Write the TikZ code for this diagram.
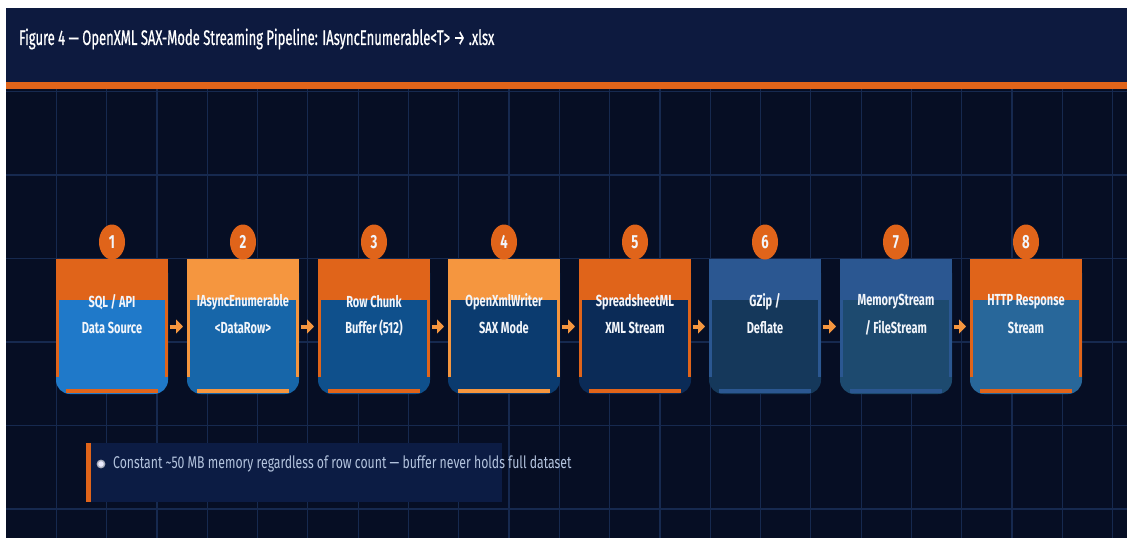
\documentclass[tikz,border=0pt]{standalone}
\usepackage{fontspec}
\setmainfont{Fira Sans}
\newfontfamily\titlef[FakeStretch=0.62,FakeBold=0.6]{Fira Sans}
\newfontfamily\labelf[FakeStretch=0.69]{Fira Sans}
\newfontfamily\notef[FakeStretch=0.72]{Fira Sans}
\usetikzlibrary{arrows.meta,shapes.geometric}

\definecolor{pagebg}{HTML}{060E24}
\definecolor{titlebg}{HTML}{0D1A3F}
\definecolor{gridc}{HTML}{16294F}
\definecolor{orA}{HTML}{E0641A}
\definecolor{orB}{HTML}{F5963F}
\definecolor{bluehead}{HTML}{2B5791}
\definecolor{bodyA}{HTML}{1F79C9}
\definecolor{bodyB}{HTML}{1766A9}
\definecolor{bodyC}{HTML}{0F508C}
\definecolor{bodyD}{HTML}{0B3B6F}
\definecolor{bodyE}{HTML}{0B2B57}
\definecolor{bodyF}{HTML}{15385B}
\definecolor{bodyG}{HTML}{1D4A6F}
\definecolor{bodyH}{HTML}{28679A}
\definecolor{notebg}{HTML}{0C1C44}
\definecolor{notetext}{HTML}{B4C4DE}
\definecolor{labeltext}{HTML}{F2F5FA}

\tikzset{
  gridline/.style={draw=gridc, line width=1.2pt},
  frame/.style={minimum width=112pt, minimum height=135pt, inner sep=0pt, outer sep=0pt},
  badge/.style={ellipse, fill=orA, minimum width=26pt, minimum height=35pt, inner sep=0pt,
                text=labeltext, font=\labelf\bfseries\fontsize{19}{19}\selectfont},
  lbl/.style={text=labeltext, font=\labelf\bfseries\fontsize{16}{16}\selectfont, inner sep=0pt},
  flow/.style={draw=orB, line width=4pt, -{Triangle[length=7pt,width=14pt]}},
}

% one pipeline stage: id, left edge, header colour, body colour, two text lines
\newcommand\stagebox[6]{%
  \node[frame] (s#1) at (#2+56,326.5) {};
  \fill[#4, rounded corners=14pt] (#2,259) rectangle (#2+112,394);
  \fill[#3] (#2,259) rectangle (#2+112,300);
  \fill[#3] (#2,300) rectangle (#2+3,377);
  \fill[#3] (#2+109,300) rectangle (#2+112,377);
  \fill[#3] (#2+10,389) rectangle (#2+102,393);
  \node[badge] (n#1) at (#2+56,242) {#1};
  \node[lbl] (t#1a) at (#2+56,302) {#5};
  \node[lbl] (t#1b) at (#2+56,328) {#6};
}

\begin{document}
\begin{tikzpicture}[x=1pt,y=-1pt]
\useasboundingbox (0,0) rectangle (1127,538);
\fill[white] (0,0) rectangle (1127,538);

% canvas and grid
\fill[pagebg] (6,89) rectangle (1127,538);
\foreach \k in {1,...,22} \draw[gridline] ({6+50.3*\k},89) -- ({6+50.3*\k},538);
\foreach \k in {1,...,6} \draw[gridline] (6,{8+83.5*\k}) -- (1127,{8+83.5*\k});

% title bar
\fill[titlebg] (6,8) rectangle (1127,82);
\fill[orA] (6,82) rectangle (1127,89);
\node[anchor=west, inner sep=0pt, text=white, font=\titlef\fontsize{21}{21}\selectfont] (title) at (19,39)
  {Figure 4 — OpenXML SAX-Mode Streaming Pipeline: IAsyncEnumerable<T> → .xlsx};

% stages
\stagebox{1}{56}{orA}{bodyA}{SQL / API}{Data Source}
\stagebox{2}{187}{orB}{bodyB}{IAsyncEnumerable}{<DataRow>}
\stagebox{3}{318}{orA}{bodyC}{Row Chunk}{Buffer (512)}
\stagebox{4}{448}{orB}{bodyD}{OpenXmlWriter}{SAX Mode}
\stagebox{5}{579}{orA}{bodyE}{SpreadsheetML}{XML Stream}
\stagebox{6}{709}{bluehead}{bodyF}{GZip /}{Deflate}
\stagebox{7}{840}{bluehead}{bodyG}{MemoryStream}{/ FileStream}
\stagebox{8}{970}{orA}{bodyH}{HTTP Response}{Stream}

% connectors
\foreach \a/\b in {1/2,2/3,3/4,4/5,5/6,6/7,7/8}
  \draw[flow] ([xshift=1.5pt]s\a.east) -- ([xshift=-4pt]s\b.west);

% note
\fill[notebg] (91,443) rectangle (502,502);
\fill[orA] (86,443) rectangle (91,502);
\fill[white!65!notebg] (101,464) circle (4.4pt);
\fill[white!92!blue] (101,464) circle (2.8pt);
\node[anchor=west, inner sep=0pt, text=notetext, font=\notef\fontsize{17}{17}\selectfont] (note) at (113,464)
  {Constant \textasciitilde50 MB memory regardless of row count — buffer never holds full dataset};
\end{tikzpicture}
\end{document}
